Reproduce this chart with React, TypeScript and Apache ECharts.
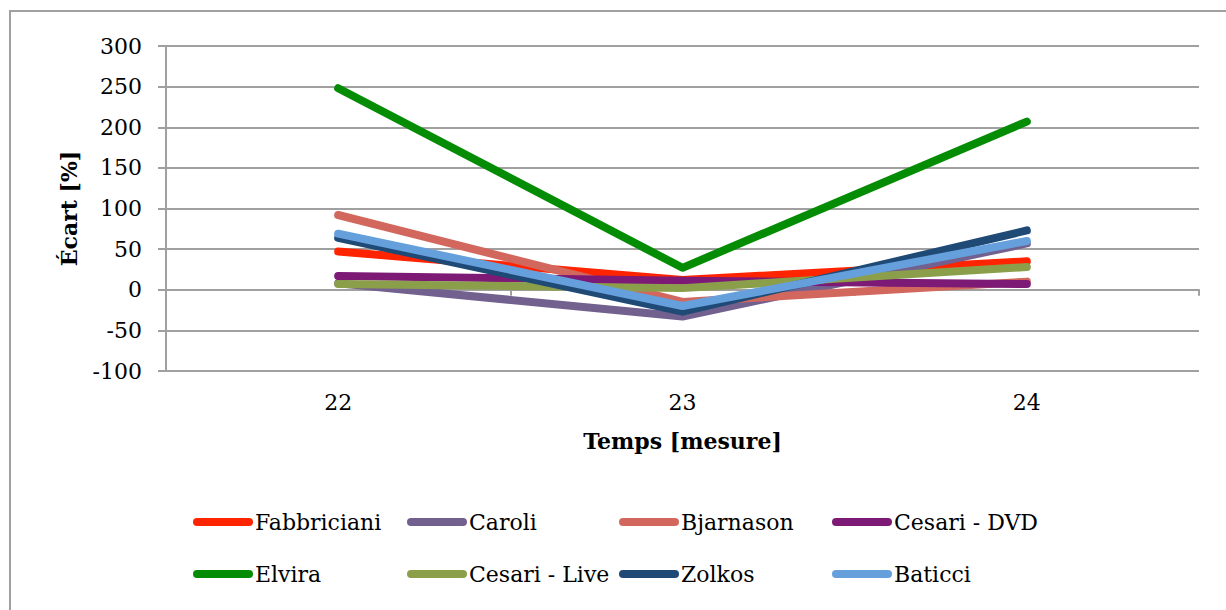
import React, { useEffect, useRef } from "react";
import * as echarts from "echarts";

const categories = ["22", "23", "24"];
const yTicks = { min: -100, max: 300, interval: 50 };

const fabbriciani = [47, 12, 35];
const caroli = [8, -33, 57];
const bjarnason = [92, -15, 10];
const cesariDVD = [17, 11, 7];
const elvira = [248, 27, 207];
const cesariLive = [7, 2, 28];
const zolkos = [64, -27, 73];
const baticci = [69, -20, 60];

const seriesNames = [
  "Fabbriciani",
  "Caroli",
  "Bjarnason",
  "Cesari - DVD",
  "Elvira",
  "Cesari - Live",
  "Zolkos",
  "Baticci",
];
const seriesValues = [fabbriciani, caroli, bjarnason, cesariDVD, elvira, cesariLive, zolkos, baticci];
const seriesColors = ["#ff2400", "#72608f", "#d2685d", "#7c1a76", "#058c05", "#8b9f4b", "#1f4a76", "#66a0dc"];

const FONT = "DejaVu Serif";
const GRID_COLOR = "#a0a0a0";

export default function App() {
  const ref = useRef<HTMLDivElement>(null);

  useEffect(() => {
    if (!ref.current) return;
    const chart = echarts.init(ref.current, null, { renderer: "svg" });

    const legendCols = [193, 407, 619, 832];
    const legendRows = [510, 562];
    const legends = seriesNames.map((name, i) => ({
      show: true,
      data: [name],
      left: legendCols[i % 4],
      top: legendRows[Math.floor(i / 4)],
      padding: 0,
      itemWidth: 60,
      itemHeight: 8,
      icon: "path://M4,0 H56 A4,4 0 0 1 56,8 H4 A4,4 0 0 1 4,0 Z",
      textStyle: { fontFamily: FONT, fontSize: 22, color: "#000", lineHeight: 24, padding: [0, 0, 0, -3] },
      selectedMode: false,
    }));

    chart.setOption({
      animation: false,
      backgroundColor: "#ffffff",
      graphic: [
        {
          type: "rect",
          shape: { x: 10, y: 11, width: 1300, height: 700 },
          style: { fill: "none", stroke: GRID_COLOR, lineWidth: 2 },
          silent: true,
        },
      ],
      legend: legends,
      grid: { left: 166, top: 46, right: 27, bottom: 239, containLabel: false },
      xAxis: [
        {
          type: "category",
          data: categories,
          position: "bottom",
          boundaryGap: true,
          axisLine: { show: true, onZero: true, lineStyle: { color: GRID_COLOR, width: 2 } },
          axisTick: { show: true, length: 6, alignWithLabel: false, lineStyle: { color: GRID_COLOR, width: 2 } },
          axisLabel: { show: false },
          splitLine: { show: false },
        },
        {
          type: "category",
          data: categories,
          position: "bottom",
          boundaryGap: true,
          axisLine: { show: false, onZero: false },
          axisTick: { show: false },
          axisLabel: { show: true, margin: 20, fontFamily: FONT, fontSize: 22, color: "#000" },
          name: "Temps [mesure]",
          nameLocation: "middle",
          nameGap: 59,
          nameTextStyle: { fontFamily: FONT, fontSize: 22, fontWeight: "bold", color: "#000" },
          splitLine: { show: false },
        },
      ],
      yAxis: {
        type: "value",
        min: yTicks.min,
        max: yTicks.max,
        interval: yTicks.interval,
        name: "Écart [%]",
        nameLocation: "middle",
        nameGap: 86,
        nameTextStyle: { fontFamily: FONT, fontSize: 22, fontWeight: "bold", color: "#000" },
        axisLine: { show: true, lineStyle: { color: GRID_COLOR, width: 2 } },
        axisTick: { show: true, length: 8, lineStyle: { color: GRID_COLOR, width: 2 } },
        axisLabel: { margin: 24, fontFamily: FONT, fontSize: 22, color: "#000" },
        splitLine: { show: true, lineStyle: { color: GRID_COLOR, width: 2 } },
      },
      series: seriesNames.map((name, i) => ({
        name,
        type: "line",
        xAxisIndex: 0,
        data: seriesValues[i],
        symbol: "none",
        color: seriesColors[i],
        lineStyle: { width: 8, color: seriesColors[i], cap: "round", join: "round" },
        itemStyle: { color: seriesColors[i] },
      })),
    });

    return () => chart.dispose();
  }, []);

  return (
    <div
      ref={ref}
      style={{ position: "absolute", left: 0, top: 0, width: 1226, height: 610 }}
    />
  );
}
